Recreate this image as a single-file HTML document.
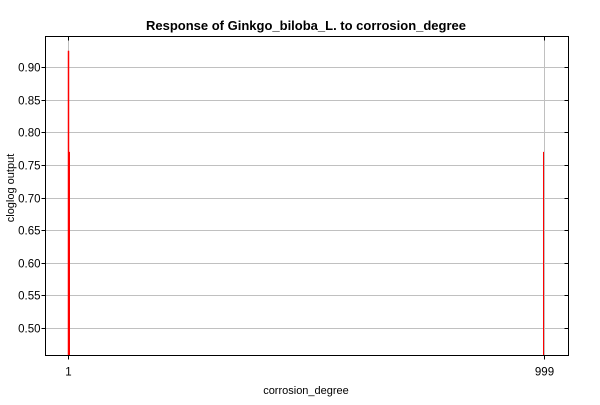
<!DOCTYPE html>
<html><head><meta charset="utf-8"><style>
body{margin:0;background:#fff;font-family:"Liberation Sans",sans-serif}
svg text{font-family:"Liberation Sans",sans-serif}
</style></head><body>
<svg width="600" height="400">
<text x="306" y="30" text-anchor="middle" font-size="13" font-weight="bold">Response of Ginkgo_biloba_L. to corrosion_degree</text>
<g id="grid"></g>
<g id="marks"></g>
<rect x="45.5" y="36.5" width="523" height="319" fill="none" stroke="#000"/>
<g id="axes"></g>
<text x="306" y="394" text-anchor="middle" font-size="11">corrosion_degree</text>
<text transform="translate(14,188) rotate(-90)" text-anchor="middle" font-size="11">cloglog output</text>
</svg>
<script>
const yTicks=[0.50,0.55,0.60,0.65,0.70,0.75,0.80,0.85,0.90];
const xTicks=[1,999];
const barX=[1,1,999];
const barY=[0.925,0.77,0.77];
const X0=45.5,X1=568.5,Y0=355.5,Y1=36.5;
const xs=v=>68+(v-1)*(544-68)/998;
const ys=v=>328-(v-0.5)*(328-67)/0.4;
const NS="http://www.w3.org/2000/svg";
const mk=(p,t,a)=>{const e=document.createElementNS(NS,t);for(const k in a)e.setAttribute(k,a[k]);document.getElementById(p).appendChild(e);return e;};
yTicks.forEach(v=>{const y=Math.round(ys(v))+0.5;
 const g=mk('grid','line',{x1:X0,x2:X1,y1:y,y2:y,stroke:'#c0c0c0'});
 
 
 mk('axes','line',{x1:X0-4,x2:X0,y1:y,y2:y,stroke:'#000'});
 mk('axes','line',{x1:X1-4,x2:X1,y1:y,y2:y,stroke:'#000'});
 const t=mk('axes','text',{x:X0-5,y:y+4,'text-anchor':'end','font-size':'11.5'});
 t.textContent=v.toFixed(2);
 
 
});
xTicks.forEach(v=>{const x=Math.round(xs(v))+0.5;
 const g=mk('grid','line',{x1:x,x2:x,y1:Y1,y2:Y0,stroke:'#c0c0c0'});
 
 
 mk('axes','line',{x1:x,x2:x,y1:Y0,y2:Y0+4,stroke:'#000'});
 mk('axes','line',{x1:x,x2:x,y1:Y1,y2:Y1+4,stroke:'#000'});
 const t=mk('axes','text',{x:x,y:Y0+20,'text-anchor':'middle','font-size':'11.5'});
 t.textContent=v;
 
 
});
barX.forEach((v,i)=>{let x=Math.round(xs(v))+0.5; if(i===1)x+=1; if(v===999)x-=1;
 const b=mk('marks','line',{x1:x,x2:x,y1:Y0,y2:ys(barY[i]),stroke:'#ff0000','stroke-width':i===0?1.5:1});
 
 
});
</script>
</body></html>
